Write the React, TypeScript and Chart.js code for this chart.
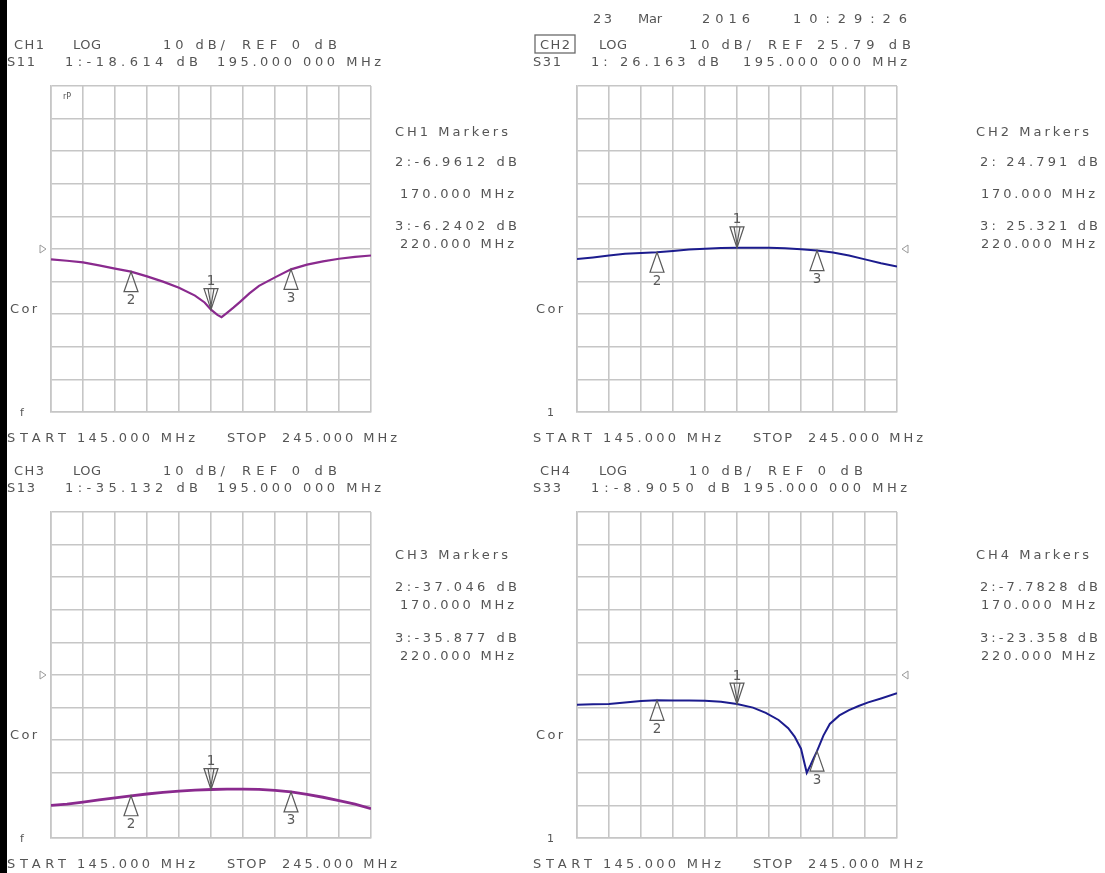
import React, { useEffect, useRef } from "react";
import { Chart, registerables } from "chart.js";

Chart.register(...registerables);

// ---------- DATA ----------
const FREQ_START = 145;
const FREQ_STOP = 245;
const FREQ_PER_DIV = 10;
const DB_PER_DIV = 10;

const CHANNELS = ["CH1", "CH2", "CH3", "CH4"];
const PARAMS = ["S11", "S31", "S13", "S33"];
const REF_LEVELS = [0, 25.79, 0, 0];
const REF_LABELS = ["0", "25.79", "0", "0"];

const MARKER_FREQS = [195, 170, 220];
const CH1_MARKERS = [-18.614, -6.9612, -6.2402];
const CH2_MARKERS = [26.163, 24.791, 25.321];
const CH3_MARKERS = [-35.132, -37.046, -35.877];
const CH4_MARKERS = [-8.905, -7.7828, -23.358];

const CH1_FREQ = [145, 150, 155, 160, 165, 170, 175, 180, 185, 190, 193, 195, 197, 198.3, 200, 202, 204, 207, 210, 215, 220, 225, 230, 235, 240, 245];
const CH1_DB = [-3.2, -3.6, -4.1, -5.0, -6.0, -6.96, -8.4, -10.0, -11.9, -14.3, -16.4, -18.6, -20.2, -20.9, -19.6, -18.0, -16.3, -13.6, -11.3, -8.7, -6.24, -4.8, -3.8, -3.0, -2.4, -2.0];

const CH2_FREQ = [145, 150, 155, 160, 165, 170, 175, 180, 185, 190, 195, 200, 205, 210, 215, 220, 225, 230, 235, 240, 245];
const CH2_DB = [22.7, 23.2, 23.8, 24.3, 24.6, 24.79, 25.2, 25.6, 25.9, 26.1, 26.16, 26.2, 26.2, 26.0, 25.7, 25.32, 24.7, 23.8, 22.6, 21.4, 20.4];

const CH3_FREQ = [145, 150, 155, 160, 165, 170, 175, 180, 185, 190, 195, 200, 205, 210, 215, 220, 225, 230, 235, 240, 245];
const CH3_DB = [-40.0, -39.6, -39.0, -38.3, -37.7, -37.05, -36.5, -36.0, -35.6, -35.3, -35.13, -35.0, -35.0, -35.1, -35.4, -35.88, -36.6, -37.5, -38.5, -39.6, -41.0];

const CH4_FREQ = [145, 150, 155, 160, 165, 170, 175, 180, 185, 190, 195, 200, 204, 208, 211, 213, 215, 216.8, 218, 219, 220, 222, 224, 227, 230, 233, 236, 240, 245];
const CH4_DB = [-9.1, -9.0, -8.9, -8.4, -8.0, -7.78, -7.8, -7.8, -7.9, -8.2, -8.9, -10.0, -11.6, -13.8, -16.3, -18.9, -22.6, -30.0, -27.6, -25.4, -23.36, -18.6, -15.0, -12.4, -10.8, -9.5, -8.4, -7.2, -5.6];

// ---------- STYLE / LAYOUT ----------
const PURPLE = "#8a2a8e";
const NAVY = "#1c1c8e";
const GRID = "#c6c6c6";
const TEXT = "#555555";
const FONT = "DejaVu Sans";
const PAD = 30;
const GW = 320;
const GH = 326;
const ORIGINS = [
  [51, 86],
  [577, 86],
  [51, 512],
  [577, 512],
];

const fmt = (v: number) => {
  const s = v.toPrecision(5);
  return v >= 0 ? " " + s : s;
};

type PanelProps = {
  freqs: number[];
  values: number[];
  refLevel: number;
  color: string;
  lineWidth: number;
  markers: number[];
  refSide: "left" | "right";
  origin: number[];
};

function Panel({ freqs, values, refLevel, color, lineWidth, markers, refSide, origin }: PanelProps) {
  const ref = useRef<HTMLCanvasElement>(null);
  useEffect(() => {
    if (!ref.current) return;
    const markerPlugin = {
      id: "vnaMarkers",
      afterDatasetsDraw(chart: any) {
        const { ctx, chartArea } = chart;
        const xs = chart.scales.x;
        const ys = chart.scales.y;
        ctx.save();
        ctx.strokeStyle = "#5a5a5a";
        ctx.fillStyle = "#5a5a5a";
        ctx.lineWidth = 1.2;
        ctx.font = `13.5px ${FONT}`;
        ctx.textAlign = "center";
        ctx.textBaseline = "middle";
        MARKER_FREQS.forEach((f, i) => {
          const px = xs.getPixelForValue(f);
          const py = ys.getPixelForValue(markers[i]);
          ctx.beginPath();
          if (i === 0) {
            ctx.moveTo(px, py);
            ctx.lineTo(px + 7, py - 21);
            ctx.lineTo(px - 7, py - 21);
            ctx.closePath();
            ctx.moveTo(px - 3, py - 21);
            ctx.lineTo(px, py - 4);
            ctx.lineTo(px + 3, py - 21);
            ctx.stroke();
            ctx.fillText(String(i + 1), px, py - 28);
          } else {
            ctx.moveTo(px, py);
            ctx.lineTo(px + 7, py + 20);
            ctx.lineTo(px - 7, py + 20);
            ctx.closePath();
            ctx.stroke();
            ctx.fillText(String(i + 1), px, py + 29);
          }
        });
        // reference level triangle
        const ry = ys.getPixelForValue(refLevel);
        ctx.strokeStyle = "#9a9a9a";
        ctx.lineWidth = 1;
        ctx.beginPath();
        if (refSide === "left") {
          const x0 = chartArea.left - 11;
          ctx.moveTo(x0, ry - 4);
          ctx.lineTo(x0 + 6, ry);
          ctx.lineTo(x0, ry + 4);
          ctx.closePath();
        } else {
          const x0 = chartArea.right + 11;
          ctx.moveTo(x0, ry - 4);
          ctx.lineTo(x0 - 6, ry);
          ctx.lineTo(x0, ry + 4);
          ctx.closePath();
        }
        ctx.stroke();
        ctx.restore();
      },
    };
    const xTicks: number[] = [];
    for (let f = FREQ_START; f <= FREQ_STOP + 1e-9; f += FREQ_PER_DIV) xTicks.push(f);
    const yTicks: number[] = [];
    for (let k = -5; k <= 5; k++) yTicks.push(refLevel + k * DB_PER_DIV);
    const gridOpts = { color: GRID, lineWidth: 1.6, drawTicks: false };
    const borderOpts = { display: true, color: GRID, width: 1.6 };
    const chart = new Chart(ref.current, {
      type: "line",
      data: {
        datasets: [
          {
            data: freqs.map((f, i) => ({ x: f, y: values[i] })),
            borderColor: color,
            borderWidth: lineWidth,
            pointRadius: 0,
            tension: 0,
            fill: false,
          },
        ],
      },
      options: {
        animation: false,
        responsive: false,
        devicePixelRatio: 1,
        layout: { padding: PAD },
        plugins: { legend: { display: false }, tooltip: { enabled: false } },
        scales: {
          x: {
            type: "linear",
            min: FREQ_START,
            max: FREQ_STOP,
            afterBuildTicks: (s: any) => {
              s.ticks = xTicks.map((v) => ({ value: v }));
            },
            ticks: { display: false },
            grid: gridOpts,
            border: borderOpts,
          },
          y: {
            type: "linear",
            min: refLevel - 5 * DB_PER_DIV,
            max: refLevel + 5 * DB_PER_DIV,
            afterBuildTicks: (s: any) => {
              s.ticks = yTicks.map((v) => ({ value: v }));
            },
            ticks: { display: false },
            grid: gridOpts,
            border: borderOpts,
          },
        },
      } as any,
      plugins: [markerPlugin],
    });
    return () => chart.destroy();
  }, []);
  return (
    <canvas
      ref={ref}
      width={GW + 2 * PAD}
      height={GH + 2 * PAD}
      style={{ position: "absolute", left: origin[0] - PAD, top: origin[1] - PAD }}
    />
  );
}

type TItem = [string, number, number, number, number?];

function buildTexts(): TItem[] {
  const items: TItem[] = [];
  const allMarkers = [CH1_MARKERS, CH2_MARKERS, CH3_MARKERS, CH4_MARKERS];
  const offs = [
    [0, 0],
    [526, 0],
    [0, 426],
    [526, 426],
  ];
  const m1W = [133, 128, 133, 139];
  const refW = [95, 143, 95, 95];
  const blockX = [395, 976, 395, 976];
  const blockY = [
    [131, 161, 193, 225, 243],
    [131, 161, 193, 225, 243],
    [554, 586, 604, 637, 655],
    [554, 586, 604, 637, 655],
  ];
  for (let i = 0; i < 4; i++) {
    const [dx, dy] = offs[i];
    const m = allMarkers[i];
    items.push([CHANNELS[i], 14 + dx, 44 + dy, 30]);
    items.push(["LOG", 73 + dx, 44 + dy, 28]);
    items.push([`${DB_PER_DIV} dB/`, 163 + dx, 44 + dy, 62]);
    items.push([`REF ${REF_LABELS[i]} dB`, 242 + dx, 44 + dy, refW[i]]);
    items.push([PARAMS[i], 7 + dx, 61 + dy, 28]);
    items.push([`1:${fmt(m[0])} dB`, 65 + dx, 61 + dy, m1W[i]]);
    items.push([`${MARKER_FREQS[0].toFixed(3)} 000 MHz`, 217 + dx, 61 + dy, 164]);
    items.push(["START", 7 + dx, 437 + dy, 59]);
    items.push([`${FREQ_START.toFixed(3)} MHz`, 77 + dx, 437 + dy, 118]);
    items.push(["STOP", 227 + dx, 437 + dy, 39]);
    items.push([`${FREQ_STOP.toFixed(3)} MHz`, 282 + dx, 437 + dy, 115]);
    items.push(["Cor", 10 + dx, 308 + dy, 27]);
    items.push([i % 2 === 0 ? "f" : "1", 20 + dx + (i % 2) * 1, 412 + dy, 0, 11]);
    const bx = blockX[i];
    const by = blockY[i];
    items.push([`${CHANNELS[i]} Markers`, bx, by[0], 113]);
    items.push([`2:${fmt(m[1])} dB`, bx + (i % 2) * 4, by[1], 122 - (i % 2) * 4]);
    items.push([`${MARKER_FREQS[1].toFixed(3)} MHz`, bx + 5, by[2], 114]);
    items.push([`3:${fmt(m[2])} dB`, bx + (i % 2) * 4, by[3], 122 - (i % 2) * 4]);
    items.push([`${MARKER_FREQS[2].toFixed(3)} MHz`, bx + 5, by[4], 114]);
  }
  items.push(["23", 593, 18, 19]);
  items.push(["Mar", 638, 18, 24]);
  items.push(["2016", 702, 18, 48]);
  items.push(["10:29:26", 793, 18, 114]);
  items.push(["rP", 63, 96, 0, 8]);
  return items;
}

export default function App() {
  const texts = buildTexts();
  return (
    <div
      style={{
        position: "fixed",
        left: 0,
        top: 0,
        width: 1105,
        height: 873,
        background: "#ffffff",
        overflow: "hidden",
      }}
    >
      <div style={{ position: "absolute", left: 0, top: 0, width: 7, height: 873, background: "#000" }} />
      <Panel freqs={CH1_FREQ} values={CH1_DB} refLevel={REF_LEVELS[0]} color={PURPLE} lineWidth={2.2} markers={CH1_MARKERS} refSide="left" origin={ORIGINS[0]} />
      <Panel freqs={CH2_FREQ} values={CH2_DB} refLevel={REF_LEVELS[1]} color={NAVY} lineWidth={2} markers={CH2_MARKERS} refSide="right" origin={ORIGINS[1]} />
      <Panel freqs={CH3_FREQ} values={CH3_DB} refLevel={REF_LEVELS[2]} color={PURPLE} lineWidth={2.8} markers={CH3_MARKERS} refSide="left" origin={ORIGINS[2]} />
      <Panel freqs={CH4_FREQ} values={CH4_DB} refLevel={REF_LEVELS[3]} color={NAVY} lineWidth={2} markers={CH4_MARKERS} refSide="right" origin={ORIGINS[3]} />
      <svg
        width={1105}
        height={873}
        style={{ position: "absolute", left: 0, top: 0, pointerEvents: "none" }}
      >
        <rect x={535} y={35} width={40} height={18} fill="none" stroke="#6a6a6a" strokeWidth={1.3} />
        {texts.map(([t, x, y, w, fs], i) => (
          <text
            key={i}
            x={x}
            y={y}
            fill={TEXT}
            fontFamily={FONT}
            fontSize={fs ?? 13}
            dominantBaseline="central"
            {...(w > 0 ? { textLength: w, lengthAdjust: "spacing" } : {})}
          >
            {t}
          </text>
        ))}
      </svg>
    </div>
  );
}
